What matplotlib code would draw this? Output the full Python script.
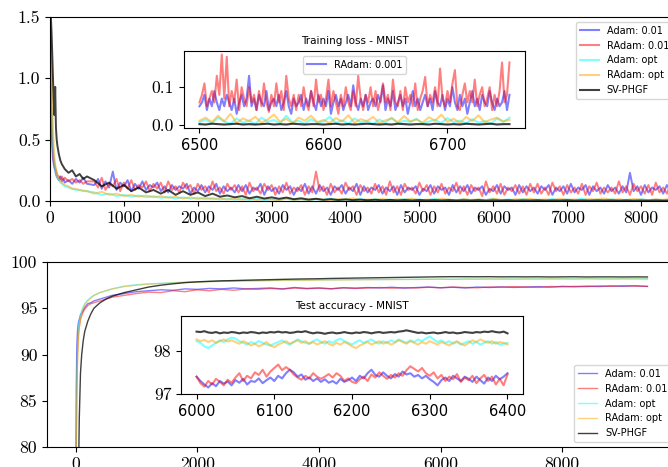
import matplotlib
matplotlib.use('Agg')
import matplotlib.pyplot as plt

# ---- training loss (main) ----
x_loss_early = [0, 10, 20, 30, 40, 50, 60, 70, 80, 90, 100, 120, 140, 160, 180, 200,
                250, 300, 350, 400, 450, 500]
x_loss = x_loss_early + list(range(600, 8600, 100))       # cyan / orange / black
x_loss_fine = x_loss_early + list(range(600, 8550, 50))   # red / blue (noisier)

loss_adam = [1.45, 0.9, 0.6, 0.45, 0.35, 0.3, 0.27, 0.25, 0.22, 0.2, 0.19, 0.17, 0.2, 0.16, 0.18,
             0.15, 0.17, 0.14, 0.18, 0.15, 0.19, 0.14,
             0.13, 0.18, 0.1, 0.16, 0.11, 0.24, 0.09, 0.15, 0.12, 0.17, 0.08, 0.14, 0.1, 0.16, 0.09, 0.13, 0.11, 0.15, 0.08, 0.12,
             0.07, 0.13, 0.09, 0.12, 0.1, 0.14, 0.06, 0.11, 0.08, 0.13, 0.07, 0.12, 0.09, 0.14, 0.06, 0.12, 0.08, 0.11, 0.07, 0.13,
             0.08, 0.13, 0.06, 0.11, 0.09, 0.14, 0.05, 0.12, 0.08, 0.11, 0.06, 0.13, 0.09, 0.12, 0.05, 0.11, 0.08, 0.14, 0.06, 0.12,
             0.06, 0.13, 0.08, 0.11, 0.05, 0.12, 0.09, 0.13, 0.06, 0.11, 0.08, 0.14, 0.05, 0.12, 0.07, 0.11, 0.09, 0.13, 0.06, 0.11,
             0.08, 0.12, 0.05, 0.13, 0.07, 0.11, 0.09, 0.12, 0.05, 0.1, 0.08, 0.13, 0.06, 0.12, 0.09, 0.11, 0.05, 0.13, 0.07, 0.12,
             0.08, 0.13, 0.06, 0.11, 0.09, 0.12, 0.05, 0.1, 0.08, 0.13, 0.06, 0.12, 0.09, 0.11, 0.05, 0.13, 0.07, 0.12, 0.08, 0.11,
             0.06, 0.12, 0.09, 0.13, 0.05, 0.11, 0.08, 0.12, 0.06, 0.14, 0.07, 0.11, 0.09, 0.13, 0.05, 0.12, 0.08, 0.11, 0.06, 0.13,
             0.08, 0.11, 0.06, 0.12, 0.07, 0.23, 0.08, 0.12, 0.05, 0.13, 0.07, 0.11, 0.09, 0.12, 0.06, 0.13, 0.08, 0.11, 0.07]
loss_radam = [1.4, 1.0, 0.7, 0.5, 0.4, 0.33, 0.3, 0.27, 0.25, 0.23, 0.21, 0.2, 0.18, 0.2, 0.17,
              0.19, 0.16, 0.18, 0.15, 0.17, 0.14, 0.16,
              0.16, 0.11, 0.19, 0.09, 0.14, 0.12, 0.18, 0.08, 0.15, 0.1, 0.17, 0.09, 0.13, 0.11, 0.16, 0.08, 0.14, 0.1, 0.15, 0.07,
              0.16, 0.09, 0.12, 0.07, 0.15, 0.1, 0.13, 0.06, 0.14, 0.09, 0.12, 0.07, 0.16, 0.08, 0.11, 0.06, 0.14, 0.09, 0.13, 0.07,
              0.12, 0.05, 0.15, 0.08, 0.11, 0.06, 0.14, 0.09, 0.13, 0.05, 0.12, 0.07, 0.15, 0.06, 0.11, 0.08, 0.13, 0.05, 0.12, 0.07,
              0.24, 0.08, 0.12, 0.05, 0.14, 0.07, 0.11, 0.06, 0.15, 0.09, 0.12, 0.05, 0.13, 0.08, 0.11, 0.06, 0.14, 0.07, 0.12, 0.05,
              0.16, 0.07, 0.12, 0.05, 0.14, 0.09, 0.11, 0.06, 0.15, 0.08, 0.13, 0.05, 0.12, 0.07, 0.14, 0.06, 0.11, 0.08, 0.15, 0.06,
              0.12, 0.05, 0.13, 0.08, 0.11, 0.04, 0.16, 0.07, 0.12, 0.06, 0.14, 0.05, 0.11, 0.08, 0.13, 0.06, 0.12, 0.05, 0.14, 0.07,
              0.14, 0.06, 0.11, 0.05, 0.15, 0.08, 0.12, 0.05, 0.13, 0.07, 0.11, 0.06, 0.14, 0.05, 0.12, 0.08, 0.15, 0.06, 0.11, 0.07,
              0.11, 0.06, 0.16, 0.07, 0.12, 0.05, 0.14, 0.08, 0.12, 0.06, 0.13, 0.05, 0.15, 0.07, 0.11, 0.06, 0.14, 0.08, 0.12]
loss_adam_opt = [1.5, 1.1, 0.8, 0.6, 0.45, 0.36, 0.3, 0.26, 0.23, 0.21, 0.19, 0.17, 0.15, 0.14, 0.13,
                 0.12, 0.11, 0.1, 0.09, 0.09, 0.08, 0.08,
                 0.07, 0.05, 0.06, 0.04, 0.05, 0.035, 0.045, 0.03, 0.04, 0.025,
                 0.035, 0.02, 0.03, 0.018, 0.028, 0.015, 0.025, 0.012, 0.02, 0.01,
                 0.018, 0.008, 0.02, 0.006, 0.015, 0.01, 0.022, 0.007, 0.016, 0.005,
                 0.014, 0.008, 0.02, 0.006, 0.012, 0.009, 0.018, 0.005, 0.015, 0.007,
                 0.012, 0.006, 0.017, 0.008, 0.013, 0.005, 0.019, 0.007, 0.011, 0.006,
                 0.015, 0.005, 0.012, 0.008, 0.018, 0.006, 0.013, 0.004, 0.016, 0.007,
                 0.011, 0.005, 0.017, 0.007, 0.013, 0.006, 0.02, 0.005, 0.012, 0.008,
                 0.014, 0.006, 0.011, 0.004, 0.016, 0.007, 0.012, 0.005, 0.015, 0.006]
loss_radam_opt = [1.5, 1.2, 1.15, 0.9, 0.6, 0.45, 0.36, 0.3, 0.26, 0.23, 0.2, 0.18, 0.16, 0.15, 0.14,
                  0.13, 0.12, 0.1, 0.1, 0.09, 0.085, 0.08,
                  0.06, 0.075, 0.05, 0.06, 0.04, 0.05, 0.035, 0.045, 0.03, 0.04,
                  0.025, 0.035, 0.02, 0.03, 0.016, 0.026, 0.014, 0.022, 0.012, 0.02,
                  0.01, 0.02, 0.008, 0.017, 0.012, 0.006, 0.019, 0.009, 0.014, 0.007,
                  0.018, 0.01, 0.006, 0.016, 0.011, 0.022, 0.007, 0.013, 0.009, 0.017,
                  0.007, 0.014, 0.01, 0.02, 0.006, 0.012, 0.008, 0.018, 0.011, 0.005,
                  0.016, 0.009, 0.013, 0.006, 0.02, 0.01, 0.007, 0.015, 0.011, 0.019,
                  0.008, 0.014, 0.006, 0.018, 0.01, 0.013, 0.007, 0.016, 0.012, 0.021,
                  0.009, 0.015, 0.007, 0.017, 0.011, 0.006, 0.014, 0.01, 0.018, 0.012]
loss_svphgf = [1.6, 1.52, 1.38, 1.2, 1.0, 0.82, 0.7, 0.93, 0.6, 0.5, 0.45, 0.38, 0.33, 0.3, 0.28,
               0.26, 0.23, 0.25, 0.2, 0.22, 0.18, 0.2,
               0.17, 0.12, 0.15, 0.1, 0.13, 0.08, 0.11, 0.07, 0.09, 0.06,
               0.09, 0.05, 0.08, 0.05, 0.07, 0.04, 0.06, 0.035, 0.045, 0.03,
               0.04, 0.022, 0.035, 0.02, 0.03, 0.018, 0.028, 0.015, 0.022, 0.012,
               0.018, 0.01, 0.015, 0.008, 0.013, 0.007, 0.011, 0.006, 0.01, 0.005,
               0.009, 0.005, 0.008, 0.004, 0.008, 0.005, 0.007, 0.004, 0.007, 0.004,
               0.006, 0.004, 0.007, 0.003, 0.006, 0.004, 0.006, 0.003, 0.005, 0.004,
               0.006, 0.003, 0.005, 0.004, 0.006, 0.003, 0.005, 0.003, 0.005, 0.004,
               0.005, 0.003, 0.005, 0.003, 0.004, 0.003, 0.005, 0.003, 0.004, 0.003]

# ---- training loss (zoom 6500-6750) ----
x_loss_zoom = list(range(6500, 6755, 5))
x_loss_zoom_fine = list(range(6500, 6751, 2))
loss_zoom_adam = [0.05, 0.06, 0.08, 0.04, 0.07, 0.05, 0.09, 0.06, 0.04, 0.07,
                  0.05, 0.08, 0.06, 0.04, 0.07, 0.03, 0.06, 0.08, 0.05, 0.07,
                  0.13, 0.05, 0.07, 0.04, 0.08, 0.06, 0.05, 0.09, 0.04, 0.06,
                  0.07, 0.05, 0.08, 0.04, 0.06, 0.09, 0.05, 0.03, 0.07, 0.05,
                  0.06, 0.08, 0.04, 0.07, 0.05, 0.09, 0.06, 0.04, 0.08, 0.05,
                  0.07, 0.05, 0.09, 0.03, 0.06, 0.08, 0.05, 0.07, 0.04, 0.06,
                  0.08, 0.05, 0.105, 0.06, 0.04, 0.07, 0.05, 0.08, 0.04, 0.06,
                  0.07, 0.05, 0.08, 0.06, 0.105, 0.04, 0.07, 0.05, 0.09, 0.04,
                  0.06, 0.08, 0.05, 0.07, 0.03, 0.06, 0.09, 0.05, 0.07, 0.04,
                  0.06, 0.08, 0.05, 0.07, 0.04, 0.09, 0.06, 0.05, 0.08, 0.04,
                  0.07, 0.05, 0.1, 0.06, 0.04, 0.08, 0.05, 0.07, 0.03, 0.06,
                  0.09, 0.05, 0.07, 0.04, 0.08, 0.06, 0.05, 0.09, 0.06, 0.04,
                  0.07, 0.05, 0.06, 0.09, 0.04, 0.08]
loss_zoom_radam = [0.06, 0.08, 0.11, 0.05, 0.07, 0.09, 0.06, 0.13, 0.08, 0.186,
                   0.07, 0.18, 0.05, 0.09, 0.06, 0.12, 0.04, 0.1, 0.07, 0.05,
                   0.1, 0.06, 0.08, 0.04, 0.09, 0.05, 0.11, 0.06, 0.035, 0.08,
                   0.05, 0.11, 0.06, 0.09, 0.04, 0.13, 0.07, 0.05, 0.08, 0.04,
                   0.08, 0.05, 0.1, 0.06, 0.04, 0.09, 0.05, 0.12, 0.06, 0.08,
                   0.04, 0.07, 0.12, 0.05, 0.09, 0.06, 0.03, 0.08, 0.05, 0.1,
                   0.06, 0.04, 0.09, 0.05, 0.13, 0.07, 0.04, 0.08, 0.06, 0.1,
                   0.05, 0.09, 0.04, 0.07, 0.11, 0.06, 0.08, 0.04, 0.12, 0.06,
                   0.05, 0.09, 0.04, 0.1, 0.06, 0.08, 0.05, 0.11, 0.04, 0.07,
                   0.09, 0.127, 0.05, 0.08, 0.06, 0.1, 0.05, 0.149, 0.07, 0.05,
                   0.09, 0.06, 0.11, 0.145, 0.05, 0.04, 0.08, 0.11, 0.06, 0.09,
                   0.06, 0.12, 0.05, 0.08, 0.1, 0.05, 0.07, 0.1, 0.04, 0.08,
                   0.05, 0.09, 0.165, 0.06, 0.08, 0.165]
loss_zoom_adam_opt = [0.008, 0.015, 0.005, 0.02, 0.01, 0.004, 0.018, 0.007, 0.012, 0.003,
                      0.02, 0.009, 0.014, 0.005, 0.025, 0.008, 0.012, 0.004, 0.016, 0.007,
                      0.01, 0.022, 0.006, 0.013, 0.004, 0.018, 0.008, 0.011, 0.003, 0.015,
                      0.007, 0.02, 0.005, 0.012, 0.009, 0.017, 0.004, 0.01, 0.014, 0.006,
                      0.019, 0.008, 0.012, 0.005, 0.016, 0.007, 0.011, 0.004, 0.018, 0.009, 0.02]
loss_zoom_radam_opt = [0.012, 0.02, 0.008, 0.025, 0.01, 0.03, 0.006, 0.018, 0.011, 0.022,
                       0.007, 0.015, 0.028, 0.009, 0.017, 0.005, 0.02, 0.012, 0.025, 0.008,
                       0.014, 0.006, 0.019, 0.01, 0.026, 0.007, 0.016, 0.011, 0.022, 0.006,
                       0.013, 0.018, 0.008, 0.024, 0.01, 0.015, 0.007, 0.021, 0.012, 0.028,
                       0.009, 0.017, 0.006, 0.022, 0.011, 0.026, 0.008, 0.015, 0.02, 0.01, 0.014]
loss_zoom_svphgf = [0.003, 0.002, 0.004, 0.003, 0.002, 0.003, 0.004, 0.002, 0.003, 0.002,
                    0.003, 0.004, 0.002, 0.003, 0.002, 0.004, 0.003, 0.002, 0.003, 0.003,
                    0.002, 0.003, 0.004, 0.002, 0.003, 0.002, 0.003, 0.004, 0.003, 0.002,
                    0.003, 0.002, 0.004, 0.003, 0.002, 0.003, 0.003, 0.002, 0.004, 0.003,
                    0.002, 0.003, 0.002, 0.004, 0.003, 0.002, 0.003, 0.004, 0.002, 0.003, 0.003]

# ---- test accuracy (main) ----
x_acc = [0, 10, 20, 30, 40, 50, 60, 80, 100, 125, 150, 200, 250, 300, 400, 500, 600, 800] \
        + list(range(1000, 9401, 200))
acc_adam = [60, 86, 91, 92.5, 93.2, 93.6, 93.8, 94.3, 94.5, 94.8, 95.1, 95.5, 95.6, 95.8, 96.0,
            96.2, 96.4, 96.6,
            96.8, 96.9, 97.0, 96.95, 97.1, 97.05, 97.15, 97.1, 97.2, 97.1,
            97.15, 97.2, 97.1, 97.25, 97.15, 97.2, 97.12, 97.22, 97.18, 97.25,
            97.2, 97.28, 97.18, 97.25, 97.3, 97.22, 97.28, 97.2, 97.3, 97.25,
            97.32, 97.26, 97.3, 97.35, 97.28, 97.38, 97.32, 97.4, 97.35, 97.42,
            97.38, 97.44, 97.36]
acc_radam = [60, 80, 87, 90, 91.5, 92.5, 93, 93.8, 94.2, 94.6, 94.9, 95.3, 95.5, 95.6, 95.8,
             96.0, 96.2, 96.4,
             96.6, 96.75, 96.7, 96.9, 96.8, 97.0, 96.9, 97.05, 96.95, 97.1,
             97.05, 97.15, 97.08, 97.2, 97.12, 97.18, 97.1, 97.22, 97.15, 97.2,
             97.25, 97.18, 97.24, 97.2, 97.28, 97.22, 97.3, 97.25, 97.22, 97.3,
             97.28, 97.34, 97.3, 97.26, 97.36, 97.32, 97.38, 97.34, 97.42, 97.38,
             97.44, 97.4, 97.38]
acc_adam_opt = [60, 82, 88, 90.5, 92, 93, 93.6, 94.3, 94.8, 95.2, 95.5, 95.9, 96.2, 96.4, 96.7,
                96.9, 97.1, 97.4,
                97.55, 97.65, 97.7, 97.78, 97.82, 97.88, 97.9, 97.95, 97.94, 97.98,
                98.0, 98.02, 98.04, 98.03, 98.06, 98.08, 98.07, 98.1, 98.09, 98.12,
                98.1, 98.13, 98.12, 98.15, 98.14, 98.16, 98.15, 98.18, 98.16, 98.18,
                98.17, 98.19, 98.18, 98.2, 98.18, 98.2, 98.19, 98.21, 98.2, 98.19,
                98.2, 98.21, 98.2]
acc_radam_opt = [60, 78, 85, 88.5, 90.5, 92, 92.8, 93.8, 94.5, 95.0, 95.4, 95.8, 96.1, 96.4, 96.7,
                 96.9, 97.1, 97.35,
                 97.5, 97.62, 97.68, 97.75, 97.8, 97.85, 97.88, 97.92, 97.95, 97.96,
                 97.98, 98.0, 98.02, 98.04, 98.03, 98.06, 98.08, 98.07, 98.1, 98.09,
                 98.12, 98.11, 98.13, 98.12, 98.14, 98.15, 98.13, 98.16, 98.15, 98.17,
                 98.16, 98.15, 98.17, 98.16, 98.18, 98.17, 98.16, 98.18, 98.17, 98.16,
                 98.18, 98.17, 98.16]
acc_svphgf = [60, 62, 66, 70, 72, 78, 83, 88, 90, 91.5, 92.5, 93.6, 94.4, 95.0, 95.6,
              96.0, 96.3, 96.7,
              97.0, 97.3, 97.5, 97.65, 97.78, 97.86, 97.92, 97.97, 98.0, 98.04,
              98.07, 98.1, 98.13, 98.16, 98.18, 98.2, 98.23, 98.25, 98.27, 98.29,
              98.31, 98.33, 98.35, 98.37, 98.39, 98.41, 98.42, 98.42, 98.41, 98.42,
              98.4, 98.41, 98.4, 98.41, 98.39, 98.4, 98.41, 98.39, 98.4, 98.4,
              98.39, 98.4, 98.39]

# ---- test accuracy (zoom 6000-6400) ----
x_acc_zoom = list(range(6000, 6405, 5))
acc_zoom_adam = [97.40, 97.30, 97.22, 97.15, 97.25, 97.18, 97.30, 97.24, 97.29, 97.20,
                 97.32, 97.26, 97.35, 97.22, 97.30, 97.28, 97.36, 97.25, 97.32, 97.38,
                 97.30, 97.42, 97.36, 97.48, 97.56, 97.50, 97.40, 97.45, 97.33, 97.38,
                 97.30, 97.36, 97.28, 97.34, 97.26, 97.30, 97.24, 97.35, 97.28, 97.32,
                 97.38, 97.30, 97.42, 97.36, 97.48, 97.56, 97.44, 97.40, 97.50, 97.42,
                 97.36, 97.46, 97.40, 97.52, 97.45, 97.48, 97.40, 97.44, 97.36, 97.42,
                 97.34, 97.28, 97.20, 97.32, 97.38, 97.30, 97.42, 97.36, 97.30, 97.40,
                 97.35, 97.28, 97.40, 97.32, 97.24, 97.38, 97.30, 97.42, 97.34, 97.40,
                 97.48]
acc_zoom_radam = [97.40, 97.25, 97.17, 97.30, 97.22, 97.35, 97.28, 97.20, 97.33, 97.26,
                  97.38, 97.48, 97.30, 97.42, 97.36, 97.50, 97.44, 97.56, 97.40, 97.52,
                  97.60, 97.68, 97.55, 97.62, 97.56, 97.45, 97.38, 97.33, 97.42, 97.36,
                  97.48, 97.40, 97.35, 97.40, 97.46, 97.38, 97.48, 97.42, 97.30, 97.36,
                  97.28, 97.25, 97.34, 97.40, 97.30, 97.45, 97.38, 97.50, 97.42, 97.35,
                  97.44, 97.38, 97.48, 97.42, 97.55, 97.64, 97.58, 97.52, 97.60, 97.48,
                  97.42, 97.50, 97.36, 97.44, 97.30, 97.40, 97.34, 97.46, 97.28, 97.38,
                  97.32, 97.42, 97.25, 97.36, 97.44, 97.30, 97.40, 97.22, 97.35, 97.20,
                  97.45]
acc_zoom_adam_opt = [98.22, 98.18, 98.10, 98.06, 98.12, 98.18, 98.24, 98.20, 98.26, 98.30,
                     98.28, 98.22, 98.18, 98.14, 98.20, 98.16, 98.22, 98.18, 98.14, 98.12,
                     98.16, 98.20, 98.24, 98.18, 98.14, 98.20, 98.26, 98.22, 98.18, 98.16,
                     98.22, 98.26, 98.20, 98.16, 98.22, 98.18, 98.24, 98.28, 98.22, 98.18,
                     98.14, 98.20, 98.24, 98.18, 98.22, 98.26, 98.20, 98.16, 98.22, 98.18,
                     98.24, 98.20, 98.26, 98.22, 98.18, 98.24, 98.20, 98.26, 98.22, 98.28,
                     98.33, 98.26, 98.20, 98.24, 98.18, 98.22, 98.16, 98.20, 98.14, 98.18,
                     98.22, 98.16, 98.20, 98.14, 98.18, 98.22, 98.16, 98.20, 98.14, 98.16,
                     98.18]
acc_zoom_radam_opt = [98.26, 98.22, 98.25, 98.20, 98.24, 98.18, 98.22, 98.26, 98.21, 98.24,
                      98.20, 98.16, 98.22, 98.18, 98.12, 98.16, 98.10, 98.14, 98.20, 98.12,
                      98.08, 98.14, 98.18, 98.22, 98.16, 98.20, 98.24, 98.18, 98.22, 98.16,
                      98.20, 98.14, 98.18, 98.22, 98.16, 98.12, 98.18, 98.14, 98.20, 98.16,
                      98.10, 98.06, 98.12, 98.16, 98.20, 98.14, 98.18, 98.22, 98.16, 98.20,
                      98.14, 98.18, 98.24, 98.20, 98.16, 98.22, 98.18, 98.14, 98.20, 98.16,
                      98.22, 98.18, 98.14, 98.20, 98.16, 98.12, 98.18, 98.22, 98.16, 98.12,
                      98.18, 98.24, 98.20, 98.26, 98.22, 98.18, 98.22, 98.16, 98.20, 98.18,
                      98.14]
acc_zoom_svphgf = [98.44, 98.43, 98.45, 98.42, 98.41, 98.43, 98.40, 98.42, 98.41, 98.43,
                   98.42, 98.40, 98.42, 98.41, 98.43, 98.42, 98.40, 98.42, 98.41, 98.43,
                   98.42, 98.44, 98.42, 98.43, 98.41, 98.42, 98.44, 98.43, 98.45, 98.42,
                   98.40, 98.42, 98.41, 98.39, 98.41, 98.42, 98.40, 98.41, 98.43, 98.41,
                   98.40, 98.42, 98.41, 98.43, 98.42, 98.40, 98.42, 98.43, 98.41, 98.42,
                   98.43, 98.42, 98.44, 98.45, 98.47, 98.45, 98.43, 98.41, 98.42, 98.40,
                   98.41, 98.42, 98.40, 98.41, 98.43, 98.41, 98.42, 98.40, 98.41, 98.43,
                   98.42, 98.41, 98.43, 98.42, 98.44, 98.43, 98.45, 98.43, 98.42, 98.44,
                   98.40]

labels = ['Adam: 0.01', 'RAdam: 0.01', 'Adam: opt', 'RAdam: opt', 'SV-PHGF']
colors = ['blue', 'red', 'cyan', 'orange', 'black']
alphas = [0.5, 0.5, 0.5, 0.5, 0.75]

SERIF = 'cmr10'
SANS = 'DejaVu Sans'

fig = plt.figure(figsize=(6.68, 4.67), dpi=100)

# ---- top: training loss ----
ax1 = fig.add_axes([0.0749, 0.5696, 0.940, 0.394])
loss_x = [x_loss_fine, x_loss_fine, x_loss, x_loss, x_loss]
loss_series = [loss_adam, loss_radam, loss_adam_opt, loss_radam_opt, loss_svphgf]
for xs, y, c, a, lab in zip(loss_x, loss_series, colors, alphas, labels):
    ax1.plot(xs, y, color=c, alpha=a, linewidth=1.4, label=lab)
ax1.set_xlim(0, 8500)
ax1.set_ylim(0, 1.5)
ax1.set_xticks(range(0, 9000, 1000))
ax1.set_yticks([0.0, 0.5, 1.0, 1.5])
ax1.set_yticklabels(['0.0', '0.5', '1.0', '1.5'])
ax1.tick_params(labelsize=12.7, labelfontfamily=SERIF)
leg = ax1.legend(loc='upper right', prop={'family': SANS, 'size': 7})
for h in leg.get_lines():
    h.set_linewidth(1.5)

ins1 = fig.add_axes([0.2754, 0.7259, 0.5105, 0.1649])
zoom_x = [x_loss_zoom_fine, x_loss_zoom_fine, x_loss_zoom, x_loss_zoom, x_loss_zoom]
loss_zoom = [loss_zoom_adam, loss_zoom_radam, loss_zoom_adam_opt, loss_zoom_radam_opt, loss_zoom_svphgf]
for i, (xs, y, c, a) in enumerate(zip(zoom_x, loss_zoom, colors, alphas)):
    ins1.plot(xs, y, color=c, alpha=a, linewidth=1.5,
              label='RAdam: 0.001' if i == 0 else None)
ins1.set_xticks([6500, 6600, 6700])
ins1.set_yticks([0.0, 0.1])
ins1.set_yticklabels(['0.0', '0.1'])
ins1.tick_params(axis='x', labelsize=10.5, labelfontfamily=SANS)
ins1.tick_params(axis='y', labelsize=12.7, labelfontfamily=SERIF)
ins1.set_title('Training loss - MNIST', fontsize=7.5, family=SANS, pad=5)
ins1.legend(loc='upper center', prop={'family': SANS, 'size': 7})

# ---- bottom: test accuracy ----
ax2 = fig.add_axes([0.0704, 0.0428, 0.9416, 0.396])
acc_series = [acc_adam, acc_radam, acc_adam_opt, acc_radam_opt, acc_svphgf]
for y, c, a, lab in zip(acc_series, colors, alphas, labels):
    ax2.plot(x_acc, y, color=c, alpha=a, linewidth=1.0, label=lab)
ax2.set_ylim(80, 100)
ax2.set_xticks([0, 2000, 4000, 6000, 8000])
ax2.set_yticks([80, 85, 90, 95, 100])
ax2.tick_params(labelsize=12.7, labelfontfamily=SERIF)
ax2.legend(loc='lower right', prop={'family': SANS, 'size': 7})

ins2 = fig.add_axes([0.271, 0.1563, 0.512, 0.167])
acc_zoom = [acc_zoom_adam, acc_zoom_radam, acc_zoom_adam_opt, acc_zoom_radam_opt, acc_zoom_svphgf]
for y, c, a in zip(acc_zoom, colors, alphas):
    ins2.plot(x_acc_zoom, y, color=c, alpha=a, linewidth=1.5)
ins2.set_ylim(97, 98.8)
ins2.set_xticks([6000, 6100, 6200, 6300, 6400])
ins2.set_yticks([97, 98])
ins2.tick_params(axis='x', labelsize=10.5, labelfontfamily=SANS)
ins2.tick_params(axis='y', labelsize=12.7, labelfontfamily=SERIF)
ins2.set_title('Test accuracy - MNIST', fontsize=7.5, family=SANS, pad=5)

fig.savefig('out.png', dpi=100)
